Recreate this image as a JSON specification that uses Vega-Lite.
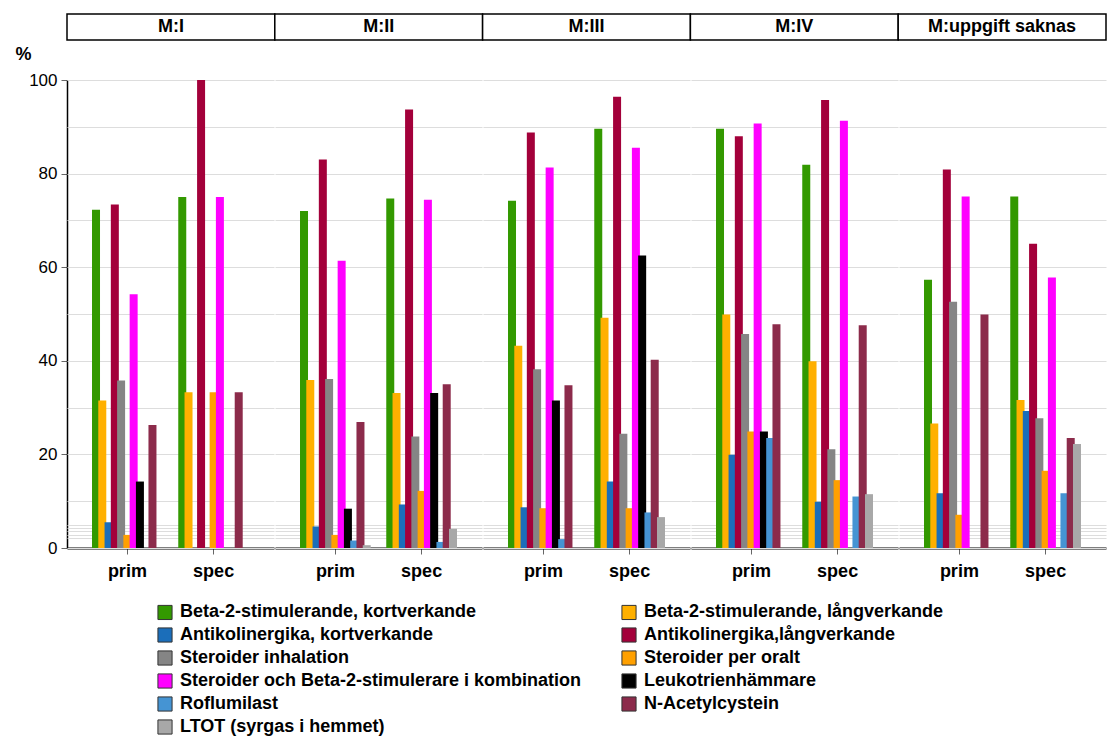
{
  "$schema": "https://vega.github.io/schema/vega-lite/v6.json",
  "padding": {"left": 14, "right": 0, "top": 13, "bottom": 0},
  "background": "white",
  "config": {"font": "Liberation Sans", "view": {"stroke": null}},
  "datasets": {
    "panels": [{"p": "M:I"}, {"p": "M:II"}, {"p": "M:III"}, {"p": "M:IV"}, {"p": "M:uppgift saknas"}],
    "bars": [
      {"p": "M:I", "g": "prim", "s": "Beta-2-stimulerande, kortverkande", "v": 72.3},
      {"p": "M:I", "g": "prim", "s": "Beta-2-stimulerande, långverkande", "v": 31.5},
      {"p": "M:I", "g": "prim", "s": "Antikolinergika, kortverkande", "v": 5.5},
      {"p": "M:I", "g": "prim", "s": "Antikolinergika,långverkande", "v": 73.4},
      {"p": "M:I", "g": "prim", "s": "Steroider inhalation", "v": 35.8},
      {"p": "M:I", "g": "prim", "s": "Steroider per oralt", "v": 2.8},
      {"p": "M:I", "g": "prim", "s": "Steroider och Beta-2-stimulerare i kombination", "v": 54.2},
      {"p": "M:I", "g": "prim", "s": "Leukotrienhämmare", "v": 14.2},
      {"p": "M:I", "g": "prim", "s": "Roflumilast", "v": 0},
      {"p": "M:I", "g": "prim", "s": "N-Acetylcystein", "v": 26.3},
      {"p": "M:I", "g": "prim", "s": "LTOT (syrgas i hemmet)", "v": 0},
      {"p": "M:I", "g": "spec", "s": "Beta-2-stimulerande, kortverkande", "v": 75.0},
      {"p": "M:I", "g": "spec", "s": "Beta-2-stimulerande, långverkande", "v": 33.3},
      {"p": "M:I", "g": "spec", "s": "Antikolinergika, kortverkande", "v": 0},
      {"p": "M:I", "g": "spec", "s": "Antikolinergika,långverkande", "v": 100},
      {"p": "M:I", "g": "spec", "s": "Steroider inhalation", "v": 0},
      {"p": "M:I", "g": "spec", "s": "Steroider per oralt", "v": 33.3},
      {"p": "M:I", "g": "spec", "s": "Steroider och Beta-2-stimulerare i kombination", "v": 75.0},
      {"p": "M:I", "g": "spec", "s": "Leukotrienhämmare", "v": 0},
      {"p": "M:I", "g": "spec", "s": "Roflumilast", "v": 0},
      {"p": "M:I", "g": "spec", "s": "N-Acetylcystein", "v": 33.3},
      {"p": "M:I", "g": "spec", "s": "LTOT (syrgas i hemmet)", "v": 0},
      {"p": "M:II", "g": "prim", "s": "Beta-2-stimulerande, kortverkande", "v": 72.0},
      {"p": "M:II", "g": "prim", "s": "Beta-2-stimulerande, långverkande", "v": 35.9},
      {"p": "M:II", "g": "prim", "s": "Antikolinergika, kortverkande", "v": 4.6},
      {"p": "M:II", "g": "prim", "s": "Antikolinergika,långverkande", "v": 83.0},
      {"p": "M:II", "g": "prim", "s": "Steroider inhalation", "v": 36.1},
      {"p": "M:II", "g": "prim", "s": "Steroider per oralt", "v": 2.8},
      {"p": "M:II", "g": "prim", "s": "Steroider och Beta-2-stimulerare i kombination", "v": 61.4},
      {"p": "M:II", "g": "prim", "s": "Leukotrienhämmare", "v": 8.4},
      {"p": "M:II", "g": "prim", "s": "Roflumilast", "v": 1.6},
      {"p": "M:II", "g": "prim", "s": "N-Acetylcystein", "v": 26.9},
      {"p": "M:II", "g": "prim", "s": "LTOT (syrgas i hemmet)", "v": 0.6},
      {"p": "M:II", "g": "spec", "s": "Beta-2-stimulerande, kortverkande", "v": 74.7},
      {"p": "M:II", "g": "spec", "s": "Beta-2-stimulerande, långverkande", "v": 33.1},
      {"p": "M:II", "g": "spec", "s": "Antikolinergika, kortverkande", "v": 9.3},
      {"p": "M:II", "g": "spec", "s": "Antikolinergika,långverkande", "v": 93.7},
      {"p": "M:II", "g": "spec", "s": "Steroider inhalation", "v": 23.8},
      {"p": "M:II", "g": "spec", "s": "Steroider per oralt", "v": 12.2},
      {"p": "M:II", "g": "spec", "s": "Steroider och Beta-2-stimulerare i kombination", "v": 74.4},
      {"p": "M:II", "g": "spec", "s": "Leukotrienhämmare", "v": 33.1},
      {"p": "M:II", "g": "spec", "s": "Roflumilast", "v": 1.3},
      {"p": "M:II", "g": "spec", "s": "N-Acetylcystein", "v": 35.0},
      {"p": "M:II", "g": "spec", "s": "LTOT (syrgas i hemmet)", "v": 4.1},
      {"p": "M:III", "g": "prim", "s": "Beta-2-stimulerande, kortverkande", "v": 74.2},
      {"p": "M:III", "g": "prim", "s": "Beta-2-stimulerande, långverkande", "v": 43.2},
      {"p": "M:III", "g": "prim", "s": "Antikolinergika, kortverkande", "v": 8.7},
      {"p": "M:III", "g": "prim", "s": "Antikolinergika,långverkande", "v": 88.8},
      {"p": "M:III", "g": "prim", "s": "Steroider inhalation", "v": 38.2},
      {"p": "M:III", "g": "prim", "s": "Steroider per oralt", "v": 8.5},
      {"p": "M:III", "g": "prim", "s": "Steroider och Beta-2-stimulerare i kombination", "v": 81.3},
      {"p": "M:III", "g": "prim", "s": "Leukotrienhämmare", "v": 31.5},
      {"p": "M:III", "g": "prim", "s": "Roflumilast", "v": 1.9},
      {"p": "M:III", "g": "prim", "s": "N-Acetylcystein", "v": 34.8},
      {"p": "M:III", "g": "prim", "s": "LTOT (syrgas i hemmet)", "v": 0},
      {"p": "M:III", "g": "spec", "s": "Beta-2-stimulerande, kortverkande", "v": 89.6},
      {"p": "M:III", "g": "spec", "s": "Beta-2-stimulerande, långverkande", "v": 49.2},
      {"p": "M:III", "g": "spec", "s": "Antikolinergika, kortverkande", "v": 14.2},
      {"p": "M:III", "g": "spec", "s": "Antikolinergika,långverkande", "v": 96.4},
      {"p": "M:III", "g": "spec", "s": "Steroider inhalation", "v": 24.4},
      {"p": "M:III", "g": "spec", "s": "Steroider per oralt", "v": 8.5},
      {"p": "M:III", "g": "spec", "s": "Steroider och Beta-2-stimulerare i kombination", "v": 85.5},
      {"p": "M:III", "g": "spec", "s": "Leukotrienhämmare", "v": 62.5},
      {"p": "M:III", "g": "spec", "s": "Roflumilast", "v": 7.6},
      {"p": "M:III", "g": "spec", "s": "N-Acetylcystein", "v": 40.2},
      {"p": "M:III", "g": "spec", "s": "LTOT (syrgas i hemmet)", "v": 6.6},
      {"p": "M:IV", "g": "prim", "s": "Beta-2-stimulerande, kortverkande", "v": 89.6},
      {"p": "M:IV", "g": "prim", "s": "Beta-2-stimulerande, långverkande", "v": 49.9},
      {"p": "M:IV", "g": "prim", "s": "Antikolinergika, kortverkande", "v": 19.9},
      {"p": "M:IV", "g": "prim", "s": "Antikolinergika,långverkande", "v": 88.0},
      {"p": "M:IV", "g": "prim", "s": "Steroider inhalation", "v": 45.7},
      {"p": "M:IV", "g": "prim", "s": "Steroider per oralt", "v": 24.9},
      {"p": "M:IV", "g": "prim", "s": "Steroider och Beta-2-stimulerare i kombination", "v": 90.7},
      {"p": "M:IV", "g": "prim", "s": "Leukotrienhämmare", "v": 24.9},
      {"p": "M:IV", "g": "prim", "s": "Roflumilast", "v": 23.5},
      {"p": "M:IV", "g": "prim", "s": "N-Acetylcystein", "v": 47.8},
      {"p": "M:IV", "g": "prim", "s": "LTOT (syrgas i hemmet)", "v": 0},
      {"p": "M:IV", "g": "spec", "s": "Beta-2-stimulerande, kortverkande", "v": 81.9},
      {"p": "M:IV", "g": "spec", "s": "Beta-2-stimulerande, långverkande", "v": 39.9},
      {"p": "M:IV", "g": "spec", "s": "Antikolinergika, kortverkande", "v": 9.9},
      {"p": "M:IV", "g": "spec", "s": "Antikolinergika,långverkande", "v": 95.7},
      {"p": "M:IV", "g": "spec", "s": "Steroider inhalation", "v": 21.1},
      {"p": "M:IV", "g": "spec", "s": "Steroider per oralt", "v": 14.5},
      {"p": "M:IV", "g": "spec", "s": "Steroider och Beta-2-stimulerare i kombination", "v": 91.3},
      {"p": "M:IV", "g": "spec", "s": "Leukotrienhämmare", "v": 0},
      {"p": "M:IV", "g": "spec", "s": "Roflumilast", "v": 11.0},
      {"p": "M:IV", "g": "spec", "s": "N-Acetylcystein", "v": 47.6},
      {"p": "M:IV", "g": "spec", "s": "LTOT (syrgas i hemmet)", "v": 11.5},
      {"p": "M:uppgift saknas", "g": "prim", "s": "Beta-2-stimulerande, kortverkande", "v": 57.3},
      {"p": "M:uppgift saknas", "g": "prim", "s": "Beta-2-stimulerande, långverkande", "v": 26.6},
      {"p": "M:uppgift saknas", "g": "prim", "s": "Antikolinergika, kortverkande", "v": 11.7},
      {"p": "M:uppgift saknas", "g": "prim", "s": "Antikolinergika,långverkande", "v": 80.9},
      {"p": "M:uppgift saknas", "g": "prim", "s": "Steroider inhalation", "v": 52.6},
      {"p": "M:uppgift saknas", "g": "prim", "s": "Steroider per oralt", "v": 7.1},
      {"p": "M:uppgift saknas", "g": "prim", "s": "Steroider och Beta-2-stimulerare i kombination", "v": 75.1},
      {"p": "M:uppgift saknas", "g": "prim", "s": "Leukotrienhämmare", "v": 0},
      {"p": "M:uppgift saknas", "g": "prim", "s": "Roflumilast", "v": 0},
      {"p": "M:uppgift saknas", "g": "prim", "s": "N-Acetylcystein", "v": 49.9},
      {"p": "M:uppgift saknas", "g": "prim", "s": "LTOT (syrgas i hemmet)", "v": 0},
      {"p": "M:uppgift saknas", "g": "spec", "s": "Beta-2-stimulerande, kortverkande", "v": 75.1},
      {"p": "M:uppgift saknas", "g": "spec", "s": "Beta-2-stimulerande, långverkande", "v": 31.6},
      {"p": "M:uppgift saknas", "g": "spec", "s": "Antikolinergika, kortverkande", "v": 29.3},
      {"p": "M:uppgift saknas", "g": "spec", "s": "Antikolinergika,långverkande", "v": 65.0},
      {"p": "M:uppgift saknas", "g": "spec", "s": "Steroider inhalation", "v": 27.7},
      {"p": "M:uppgift saknas", "g": "spec", "s": "Steroider per oralt", "v": 16.5},
      {"p": "M:uppgift saknas", "g": "spec", "s": "Steroider och Beta-2-stimulerare i kombination", "v": 57.8},
      {"p": "M:uppgift saknas", "g": "spec", "s": "Leukotrienhämmare", "v": 0},
      {"p": "M:uppgift saknas", "g": "spec", "s": "Roflumilast", "v": 11.7},
      {"p": "M:uppgift saknas", "g": "spec", "s": "N-Acetylcystein", "v": 23.5},
      {"p": "M:uppgift saknas", "g": "spec", "s": "LTOT (syrgas i hemmet)", "v": 22.2}
    ]
  },
  "spacing": 4,
  "vconcat": [
    {
      "data": {"name": "panels"},
      "width": 1039,
      "height": 26,
      "encoding": {
        "x": {"field": "p", "type": "nominal", "sort": null, "scale": {"paddingInner": 0, "paddingOuter": 0}, "axis": null}
      },
      "layer": [
        {"mark": {"type": "bar", "fill": "white", "stroke": "black", "strokeWidth": 1.5}},
        {"mark": {"type": "text", "fontSize": 18, "fontWeight": "bold", "color": "black"}, "encoding": {"text": {"field": "p"}}}
      ]
    },
    {
      "data": {"name": "bars"},
      "spacing": 1,
      "facet": {
        "column": {"field": "p", "type": "nominal", "sort": ["M:I", "M:II", "M:III", "M:IV", "M:uppgift saknas"], "header": null}
      },
      "spec": {
        "width": 207,
        "height": 468,
        "mark": {"type": "bar", "width": 8},
        "encoding": {
          "x": {
            "field": "g", "type": "nominal", "sort": ["prim", "spec"],
            "scale": {"paddingInner": 0.2, "paddingOuter": 0.3},
            "axis": {"title": null, "labelAngle": 0, "labelFontSize": 18, "labelFontWeight": "bold", "labelColor": "black", "labelPadding": 8, "domainColor": "black", "domainWidth": 2, "tickColor": "#666", "tickSize": 6, "grid": false}
          },
          "xOffset": {
            "field": "s", "type": "nominal",
            "sort": ["Beta-2-stimulerande, kortverkande", "Beta-2-stimulerande, långverkande", "Antikolinergika, kortverkande", "Antikolinergika,långverkande", "Steroider inhalation", "Steroider per oralt", "Steroider och Beta-2-stimulerare i kombination", "Leukotrienhämmare", "Roflumilast", "N-Acetylcystein", "LTOT (syrgas i hemmet)"],
            "scale": {"paddingInner": 0, "paddingOuter": 0}
          },
          "y": {
            "field": "v", "type": "quantitative",
            "scale": {"domain": [0, 100], "nice": false},
            "axis": {
              "title": "%", "titleAngle": 0, "titleFontSize": 18, "titleFontWeight": "bold", "titleColor": "black",
              "titleX": -44, "titleY": -26, "titleAlign": "center", "titleBaseline": "middle",
              "values": [0, 2.1, 2.8, 3.55, 4.3, 5, 10, 20, 30, 40, 50, 60, 70, 80, 90, 100],
              "labelExpr": "datum.value % 20 === 0 ? datum.label : ''",
              "labelFontSize": 17, "labelColor": "black", "labelPadding": 4,
              "tickSize": 6, "tickColor": "#666",
              "tickOpacity": {"condition": {"test": "datum.value % 20 === 0", "value": 1}, "value": 0},
              "domainColor": "black", "domainWidth": 1.5,
              "gridColor": "#dddddd", "gridWidth": 1
            }
          },
          "color": {
            "field": "s", "type": "nominal",
            "scale": {
              "domain": ["Beta-2-stimulerande, kortverkande", "Beta-2-stimulerande, långverkande", "Antikolinergika, kortverkande", "Antikolinergika,långverkande", "Steroider inhalation", "Steroider per oralt", "Steroider och Beta-2-stimulerare i kombination", "Leukotrienhämmare", "Roflumilast", "N-Acetylcystein", "LTOT (syrgas i hemmet)"],
              "range": ["#339900", "#FFB000", "#1B6EBA", "#A3003A", "#858585", "#FFA000", "#FF00FF", "#000000", "#4594D3", "#8C2B4B", "#A8A8A8"]
            },
            "legend": {
              "title": null, "orient": "none", "legendX": 89, "legendY": 589, "columns": 2, "direction": "horizontal", "columnPadding": 37,
              "rowPadding": 3, "symbolType": "square", "symbolSize": 200, "symbolStrokeColor": "#333", "symbolStrokeWidth": 1,
              "labelFontSize": 18, "labelFontWeight": "bold", "labelColor": "black", "labelLimit": 600, "labelOffset": 6
            }
          }
        }
      }
    }
  ],
  "resolve": {"scale": {"x": "independent"}}
}
